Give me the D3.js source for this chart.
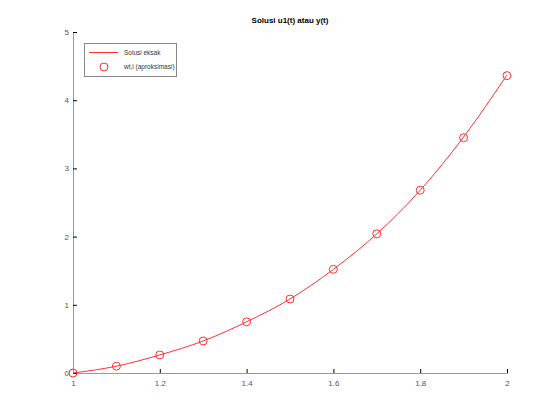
<!DOCTYPE html>
<html>
<head>
<meta charset="utf-8">
<script src="https://cdn.jsdelivr.net/npm/d3@7"></script>
<style>
  body { margin: 0; background: #fff; }
  text { font-family: "Liberation Sans", Arial, sans-serif; }
</style>
</head>
<body>
<script>
// values
var tValues = [1.0, 1.1, 1.2, 1.3, 1.4, 1.5, 1.6, 1.7, 1.8, 1.9, 2.0];
var exactValues = [0, 0.10, 0.265, 0.47, 0.75, 1.085, 1.52, 2.04, 2.68, 3.46, 4.37];
var approxValues = [0, 0.10, 0.265, 0.47, 0.75, 1.085, 1.52, 2.04, 2.68, 3.45, 4.36];
var xTicks = [1, 1.2, 1.4, 1.6, 1.8, 2];
var yTicks = [0, 1, 2, 3, 4, 5];
var legendLabels = ['Solusi eksak', 'wt,i (aproksimasi)'];

var width = 560, height = 420;
var svg = d3.select('body').append('svg')
  .attr('width', width)
  .attr('height', height);

var x = d3.scaleLinear().domain([1, 2]).range([73, 507]);
var y = d3.scaleLinear().domain([0, 5]).range([373, 32]);

// title
svg.append('text')
  .attr('x', 290)
  .attr('y', 23)
  .attr('text-anchor', 'middle')
  .style('font-size', '8px')
  .style('font-weight', 'bold')
  .text('Solusi u1(t) atau y(t)');

// axes
var xAxis = svg.append('g')
  .attr('transform', 'translate(0,' + y(0) + ')')
  .call(d3.axisBottom(x).tickValues(xTicks).tickSize(-4).tickPadding(8).tickFormat(d3.format('')));
var yAxis = svg.append('g')
  .attr('transform', 'translate(' + x(1) + ',0)')
  .call(d3.axisLeft(y).tickValues(yTicks).tickSize(-4).tickPadding(4).tickFormat(d3.format('d')));

[xAxis, yAxis].forEach(function(a) {
  a.select('.domain').attr('stroke', '#999');
  a.selectAll('.tick line').attr('stroke', '#000');
  a.selectAll('.tick text')
    .attr('fill', '#555')
    .style('font-size', '8px')
    .style('font-family', '"Liberation Sans", Arial, sans-serif');
});
xAxis.selectAll('.tick text').attr('y', 7);

// exact solution line
var lineData = tValues.map(function(t, i) { return [t, exactValues[i]]; });
svg.append('path')
  .datum(lineData)
  .attr('fill', 'none')
  .attr('stroke', '#ff3030')
  .attr('stroke-width', 1)
  .attr('d', d3.line()
    .x(function(d) { return x(d[0]); })
    .y(function(d) { return y(d[1]); })
    .curve(d3.curveMonotoneX));

// approximation markers
svg.selectAll('circle.pt')
  .data(tValues.map(function(t, i) { return [t, approxValues[i]]; }))
  .enter().append('circle')
  .attr('class', 'pt')
  .attr('cx', function(d) { return x(d[0]); })
  .attr('cy', function(d) { return y(d[1]); })
  .attr('r', 4)
  .attr('fill', 'none')
  .attr('stroke', '#ff3030')
  .attr('stroke-width', 1);

// legend
var legend = svg.append('g');
legend.append('rect')
  .attr('x', 84.5).attr('y', 43.5)
  .attr('width', 92).attr('height', 33)
  .attr('fill', '#fff')
  .attr('stroke', '#888');
legend.append('line')
  .attr('x1', 89).attr('x2', 118)
  .attr('y1', 52.5).attr('y2', 52.5)
  .attr('stroke', '#ff3030');
legend.append('circle')
  .attr('cx', 104).attr('cy', 67).attr('r', 4)
  .attr('fill', 'none').attr('stroke', '#ff3030');
legend.selectAll('text.lbl')
  .data(legendLabels)
  .enter().append('text')
  .attr('class', 'lbl')
  .attr('x', 124)
  .attr('y', function(d, i) { return 55 + i * 14; })
  .style('font-size', '6.5px')
  .attr('fill', '#333')
  .text(function(d) { return d; });
</script>
</body>
</html>
